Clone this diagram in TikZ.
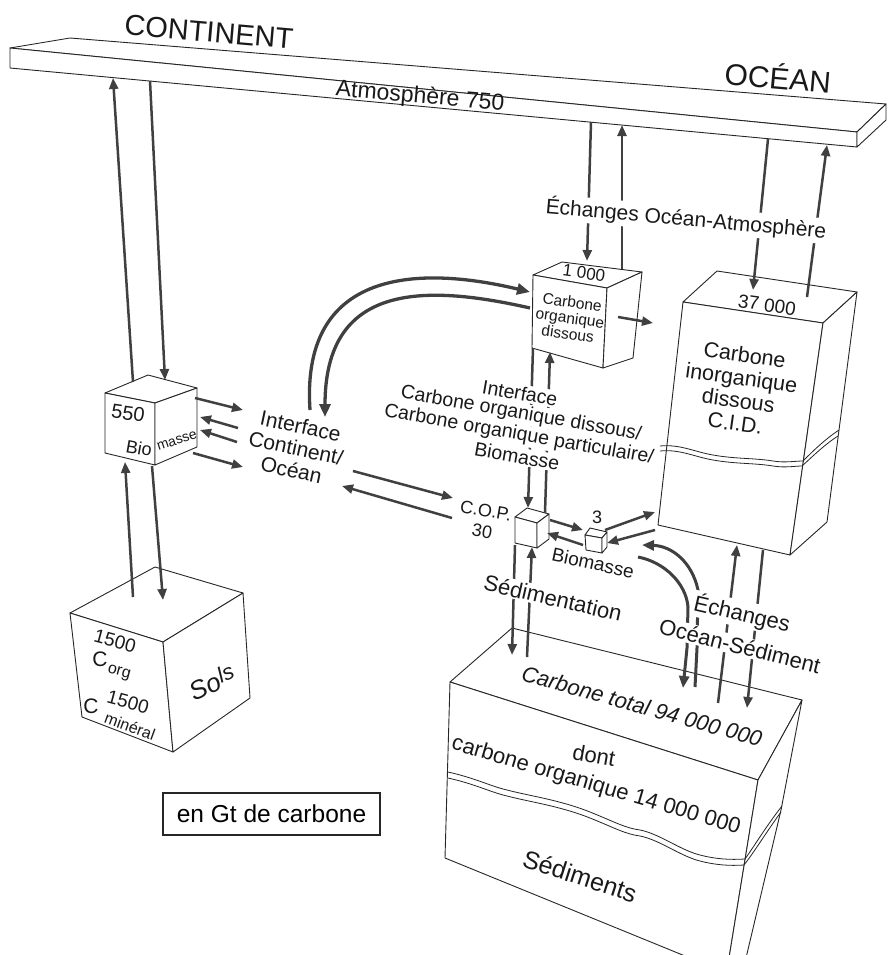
\documentclass[tikz,border=0pt]{standalone}
\usepackage{fontspec}
\setmainfont{Liberation Sans}
\usetikzlibrary{arrows.meta}
\newcommand\fsz[2]{\fontsize{#1}{#2}\selectfont}
\begin{document}
\begin{tikzpicture}[x=1pt,y=-1pt,
  edge/.style={draw=black!85,line width=0.9pt,line join=round},
  face/.style={edge,fill=white},
  tear/.style={draw=black!85,line width=0.8pt},
  arr/.style={draw=black!75,line width=2.5pt,-{Triangle[length=11pt,width=9pt]}},
  bigarr/.style={draw=black!75,line width=3.3pt,-{Triangle[length=13pt,width=11pt]}},
  midarr/.style={draw=black!75,line width=3pt,-{Triangle[length=12pt,width=10pt]}},
  txt/.style={inner sep=0.5pt,text=black!90},
  wtxt/.style={txt,fill=white,inner sep=1.5pt},
]
\useasboundingbox (0,0) rectangle (889,955);

% ---------- atmosphere slab
\draw[face] (10,48) -- (70,38) -- (886,104) -- (857,132) -- cycle;
\draw[face] (10,48) -- (857,132) -- (857,147) -- (10,68) -- cycle;
\draw[face] (857,132) -- (886,104) -- (886,120) -- (857,147) -- cycle;
\node[txt,rotate=-5,font=\fsz{23}{23}] (atm) at (420,97) {Atmosphère 750};
\node[txt,rotate=-5,font=\fsz{29}{29}] (cont) at (209,32) {CONTINENT};
\node[txt,rotate=-5,font=\fsz{30}{30}] (ocean) at (778,76) {OCÉAN};

% ---------- Biomasse (continent)
\draw[face] (105,393) -- (155,403) -- (197,388) -- (148,375) -- cycle;
\draw[face] (105,393) -- (155,403) -- (155,465) -- (105,453) -- cycle;
\draw[face] (155,403) -- (197,388) -- (197,447) -- (155,465) -- cycle;
\node[txt,rotate=-8,font=\fsz{20}{20}] (b550) at (128,413) {550};
\node[txt,rotate=-10,font=\fsz{18}{18}] (bio) at (139,448) {Bio};
\node[txt,rotate=18,font=\fsz{14}{14}] (masse) at (177,441) {masse};

% ---------- Sols
\draw[face] (70,613) -- (163,642) -- (243,593) -- (155,567) -- cycle;
\draw[face] (70,613) -- (163,642) -- (173,752) -- (82,717) -- cycle;
\draw[face] (163,642) -- (243,593) -- (250,698) -- (173,752) -- cycle;
\node[txt,rotate=-15,font=\fsz{19}{19}] (sa) at (115,641) {1500};
\node[txt,font=\fsz{21}{21}] (sc1) at (100,659) {C};
\node[txt,rotate=-15,font=\fsz{16}{16}] (sorg) at (119,673) {org};
\node[txt,font=\fsz{21}{21}] (sc2) at (91,706) {C};
\node[txt,rotate=-15,font=\fsz{19}{19}] (sb) at (128,702) {1500};
\node[txt,rotate=-20,font=\fsz{16}{16}] (smin) at (130,726) {minéral};
\node[txt,rotate=25,font=\fsz{26}{26}\itshape] (sols) at (212,682) {So\raisebox{5pt}{\fsz{22}{22}ls}};

% ---------- Carbone organique dissous
\draw[face] (533,275) -- (607,288) -- (642,272) -- (562,262) -- cycle;
\draw[face] (533,275) -- (607,288) -- (603,368) -- (532,348) -- cycle;
\draw[face] (607,288) -- (642,272) -- (633,358) -- (603,368) -- cycle;
\node[txt,rotate=-8,font=\fsz{17}{17}] (c1000) at (584,273) {1 000};
\node[txt,rotate=-8,align=center,font=\fsz{15.5}{16}] (codt) at (570,318) {Carbone\\organique\\dissous};

% ---------- Carbone inorganique dissous
\draw[face] (683,302) -- (823,323) -- (857,292) -- (717,271) -- cycle;
\draw[face] (683,302) -- (823,323) -- (790,555) -- (658,525) -- cycle;
\draw[face] (823,323) -- (857,292) -- (827,522) -- (790,555) -- cycle;
\draw[tear] (660,446) .. controls (680,444) and (695,452) .. (713,455)
  .. controls (735,459) and (755,458) .. (773,461) .. controls (785,463) and (795,461) .. (803,461)
  .. controls (812,452) and (824,440) .. (839,430);
\draw[tear] (660,451) .. controls (680,449) and (695,457) .. (713,460)
  .. controls (735,464) and (755,463) .. (773,466) .. controls (785,468) and (795,466) .. (802,466)
  .. controls (812,457) and (824,445) .. (838,436);
\node[txt,rotate=-8,font=\fsz{19}{19}] (c37) at (767,305) {37 000};
\node[txt,rotate=-8,align=center,font=\fsz{21.5}{23}] (cidt) at (740,389) {Carbone\\inorganique\\dissous\\C.I.D.};

% ---------- C.O.P.
\draw[face] (515,517) -- (537,523) -- (549,514) -- (527,508) -- cycle;
\draw[face] (515,517) -- (537,523) -- (537,548) -- (515,543) -- cycle;
\draw[face] (537,523) -- (549,514) -- (549,539) -- (537,548) -- cycle;
\node[txt,rotate=-10,align=center,font=\fsz{18}{21}] (copt) at (484,521) {C.O.P.\\30};

% ---------- Biomasse 3
\draw[face] (585,535) -- (602,538) -- (607,532) -- (590,528) -- cycle;
\draw[face] (585,535) -- (602,538) -- (602,553) -- (586,550) -- cycle;
\draw[face] (602,538) -- (607,532) -- (607,547) -- (602,553) -- cycle;
\node[txt,font=\fsz{18}{18}] (b3) at (597,517) {3};
\node[txt,rotate=-12,font=\fsz{19}{19}] (b3t) at (593,563) {Biomasse};

% ---------- Sediments
\draw[face] (450,682) -- (758,780) -- (802,700) -- (512,628) -- cycle;
\draw[face] (450,682) -- (758,780) -- (729,958) -- (690,958) -- (445,858) -- cycle;
\draw[face] (758,780) -- (802,700) -- (781,810) -- (746,958) -- (729,958) -- cycle;
\draw[tear] (448,772) .. controls (475,778) and (490,786) .. (507,790)
  .. controls (530,796) and (560,800) .. (590,812) .. controls (615,822) and (625,828) .. (640,830)
  .. controls (660,834) and (680,850) .. (700,855) .. controls (715,859) and (730,860) .. (745,859)
  .. controls (755,845) and (767,825) .. (782,806);
\draw[tear] (448,778) .. controls (475,784) and (490,792) .. (507,796)
  .. controls (530,802) and (560,806) .. (590,818) .. controls (615,828) and (625,834) .. (640,836)
  .. controls (660,840) and (680,856) .. (700,861) .. controls (715,865) and (730,866) .. (744,865)
  .. controls (755,851) and (767,831) .. (781,812);
\node[txt,rotate=-15.5,font=\fsz{22}{22}\itshape] (ctot) at (642,706) {Carbone total 94 000 000};
\node[txt,rotate=-10,font=\fsz{22}{22}] (dont) at (594,755) {dont};
\node[txt,rotate=-16.5,font=\fsz{22}{22}] (corg) at (596,786) {carbone organique 14 000 000};
\node[txt,rotate=-18,font=\fsz{25}{25}] (sedt) at (580,876) {Sédiments};

% ---------- end points
\path (133,382) coordinate (p1a) (113,78) coordinate (p1b)
      (150,81) coordinate (p2a) (165,380) coordinate (p2b)
      (195,398) coordinate (p3a) (243,410) coordinate (p3b)
      (238,428) coordinate (p4a) (200,417) coordinate (p4b)
      (237,442) coordinate (p5a) (200,430) coordinate (p5b)
      (193,453) coordinate (p6a) (243,467) coordinate (p6b)
      (353,471) coordinate (p7a) (453,498) coordinate (p7b)
      (452,518) coordinate (p8a) (342,486) coordinate (p8b)
      (310,410) coordinate (p9a) (530,292) coordinate (p9b)
      (530,308) coordinate (p10a) (325,417) coordinate (p10b)
      (591,122) coordinate (p11a) (587,261) coordinate (p11b)
      (622,269) coordinate (p12a) (622,125) coordinate (p12b)
      (618,317) coordinate (p13a) (653,323) coordinate (p13b)
      (768,139) coordinate (p14a) (753,290) coordinate (p14b)
      (807,297) coordinate (p15a) (827,145) coordinate (p15b)
      (533,348) coordinate (p16a) (528,508) coordinate (p16b)
      (545,513) coordinate (p17a) (550,352) coordinate (p17b)
      (550,520) coordinate (p18a) (583,530) coordinate (p18b)
      (583,545) coordinate (p19a) (547,533) coordinate (p19b)
      (605,530) coordinate (p20a) (655,512) coordinate (p20b)
      (655,530) coordinate (p21a) (607,543) coordinate (p21b)
      (515,545) coordinate (p22a) (512,655) coordinate (p22b)
      (527,657) coordinate (p23a) (532,547) coordinate (p23b)
      (695,687) coordinate (p24a) (642,545) coordinate (p24b)
      (638,557) coordinate (p25a) (683,688) coordinate (p25b)
      (718,703) coordinate (p26a) (737,545) coordinate (p26b)
      (763,550) coordinate (p27a) (747,708) coordinate (p27b)
      (133,597) coordinate (p28a) (125,462) coordinate (p28b)
      (152,466) coordinate (p29a) (163,600) coordinate (p29b);

% ---------- connectors
\foreach \i in {1,...,8,11,12,13,14,15,16,17,18,19,20,21,22,23,26,27,28,29}
  \draw[arr] (p\i a) -- (p\i b);
\draw[bigarr] (p9a) .. controls (300,262) and (430,268) .. (p9b);
\draw[bigarr] (p10a) .. controls (420,283) and (325,285) .. (p10b);
\draw[midarr] (p24a) -- (697,648) -- (698,590) .. controls (692,562) and (672,546) .. (p24b);
\draw[midarr] (p25a) .. controls (664,562) and (686,583) .. (688,607) -- (687,648) -- (p25b);

% ---------- labels over connectors
\node[wtxt,rotate=-5,font=\fsz{21}{21}] (eoa) at (686,219) {Échanges Océan-Atmosphère};
\node[wtxt,rotate=-13,font=\fsz{22}{22}] (sedim) at (553,598) {Sédimentation};
\node[wtxt,rotate=-13,font=\fsz{22}{22}] (ech2) at (742,614) {Échanges};
\node[wtxt,rotate=-14,font=\fsz{22}{22}] (osed) at (740,646) {Océan-Sédiment};
\node[wtxt,rotate=-10,font=\fsz{19.5}{19.5}] (if1) at (520,393) {Interface};
\node[wtxt,rotate=-10,font=\fsz{19.5}{19.5}] (if2) at (521,414) {Carbone organique dissous/};
\node[wtxt,rotate=-10,font=\fsz{19.5}{19.5}] (if3) at (519,435) {Carbone organique particulaire/};
\node[wtxt,rotate=-10,font=\fsz{19.5}{19.5}] (if4) at (517,456) {Biomasse};
\node[txt,rotate=-12,align=center,font=\fsz{21}{22.5}] (ico) at (296,448) {Interface\\Continent/\\Océan};

% ---------- unit box
\node[draw=black!85,line width=1.1pt,minimum width=217pt,minimum height=42pt,inner sep=2pt,font=\fsz{24.5}{24.5}] (unit) at (271.5,814) {en Gt de carbone};
\end{tikzpicture}
\end{document}
